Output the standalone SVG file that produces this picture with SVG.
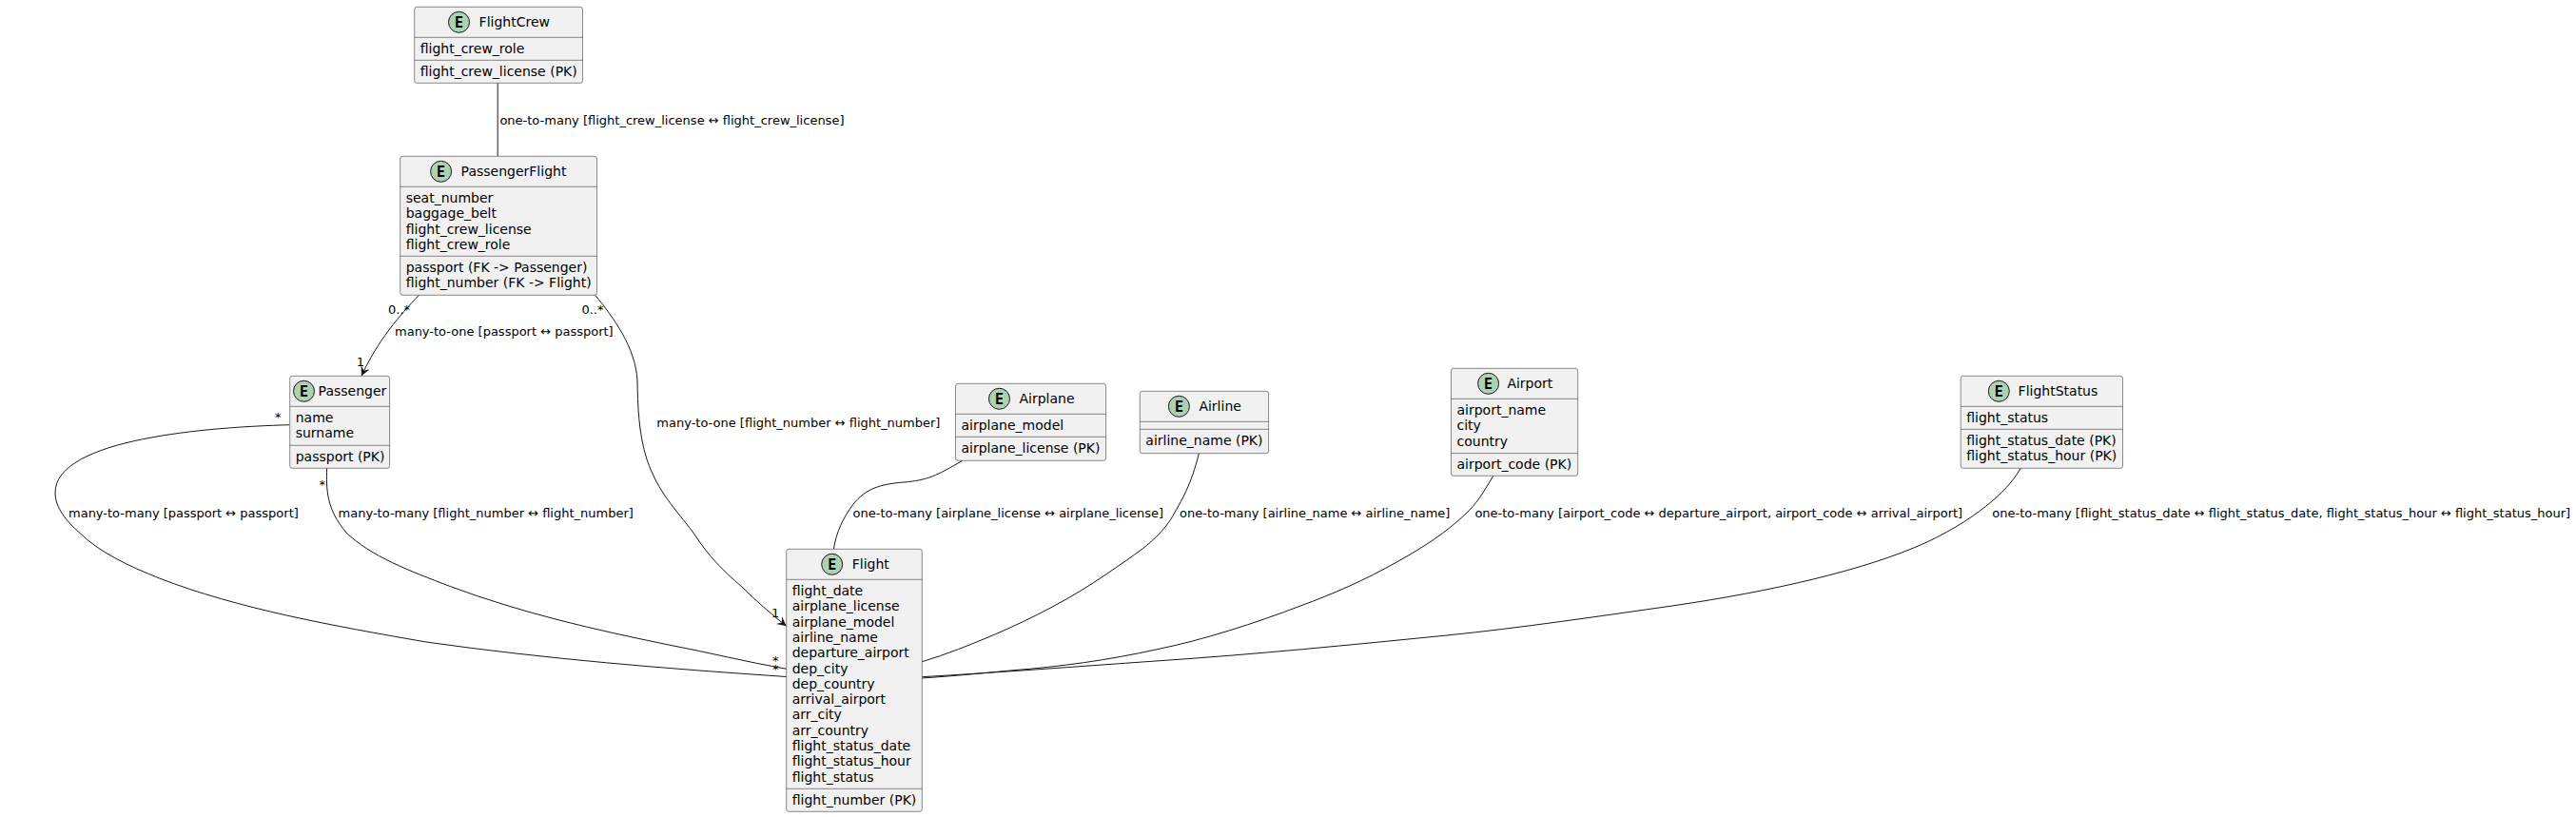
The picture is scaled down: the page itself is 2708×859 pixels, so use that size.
<svg xmlns="http://www.w3.org/2000/svg" width="2708" height="859" viewBox="0 0 2708 859">
<style>
text{font-family:"DejaVu Sans",sans-serif;fill:#000}
.box{fill:#F1F1F1;stroke:#181818;stroke-width:.5}
.sep{stroke:#181818;stroke-width:.5}
.spot{fill:#ADD1B2;stroke:#181818;stroke-width:1}
.e{font-family:"DejaVu Sans Mono",monospace;font-weight:bold;font-size:15px;text-anchor:middle}
.t,.f{font-size:14px}
.l{font-size:13px}
.c{fill:none;stroke:#181818;stroke-width:1}
</style>
<defs>
<marker id="open" markerUnits="userSpaceOnUse" markerWidth="12" markerHeight="12" refX="10" refY="6" orient="auto"><polygon points="0,1 10,6 0,11 4,6" fill="#181818"/></marker>
</defs>
<rect width="2708" height="859" fill="#fff"/>
<g id="connectors">
<path class="c" d="M523.2,87.3 L523.2,164.3"/>
<path class="c" marker-end="url(#open)" d="M440.4,310.3 C420,332 397,358 380,395.3"/>
<path class="c" marker-end="url(#open)" d="M625.7,310.3 C645,334 668,365 670,400 C670.5,425 671,455 680,483 C692,518 710,535 728.8,560 C745,585 760,600 780,617 C795,632 810,645 826.7,658.3"/>
<path class="c" d="M304.3,446.7 C220,449 58,461 58,518 C58,534 70,548 83.4,560 C105,581 135,595 167.6,608 C250,640 350,658 448,675 C575,693 700,703 826.7,711.5"/>
<path class="c" d="M343.6,492.3 C343,515 343,535 364,560 C390,585 430,600 473.7,616.7 C550,645 625,662 703,678 C745,686 785,696 826.7,703.3"/>
<path class="c" d="M1011.7,484.3 C985,500 975,505 950,507 C925,509 910,514 897,530 C886,545 879,560 876.4,577.3"/>
<path class="c" d="M1260.4,476.7 C1252,510 1243,525 1230.4,546.7 C1215,570 1190,585 1164,603 C1125,630 1085,650 1046.7,666.7 C1020,678 995,688 969.3,695.7"/>
<path class="c" d="M1569.8,500.3 C1558,520 1552,530 1541,540 C1520,560 1497,575 1470,590 C1435,610 1400,625 1368,636.7 C1320,655 1265,673 1215,683 C1165,694 1115,701 1062,705 C1030,708 1000,711 969.3,713"/>
<path class="c" d="M2124,492.3 C2115,510 2085,542 2025.7,570 C1960,600 1860,622 1760,636.7 C1680,648 1600,660 1521,668 C1420,678 1320,688 1215,695 C1130,701 1050,707 969.3,711.7"/>
<text class="l" x="525.4" y="130.7">one-to-many [flight_crew_license ↔ flight_crew_license]</text>
<text class="l" x="415" y="353.3">many-to-one [passport ↔ passport]</text>
<text class="l" x="408" y="330">0..*</text>
<text class="l" x="374.8" y="385">1</text>
<text class="l" x="690.3" y="449">many-to-one [flight_number ↔ flight_number]</text>
<text class="l" x="611.4" y="330">0..*</text>
<text class="l" x="811" y="649">1</text>
<text class="l" x="72" y="544">many-to-many [passport ↔ passport]</text>
<text class="l" x="289" y="443">*</text>
<text class="l" x="812" y="708">*</text>
<text class="l" x="355.6" y="544">many-to-many [flight_number ↔ flight_number]</text>
<text class="l" x="335.5" y="514">*</text>
<text class="l" x="812" y="698.8">*</text>
<text class="l" x="896.5" y="544">one-to-many [airplane_license ↔ airplane_license]</text>
<text class="l" x="1240" y="544">one-to-many [airline_name ↔ airline_name]</text>
<text class="l" x="1550.4" y="544">one-to-many [airport_code ↔ departure_airport, airport_code ↔ arrival_airport]</text>
<text class="l" x="2094.3" y="544">one-to-many [flight_status_date ↔ flight_status_date, flight_status_hour ↔ flight_status_hour]</text>
</g>
<g id="FlightCrew">
<rect class="box" x="435.7" y="7.3" width="176.8" height="80" rx="2.5"/>
<line class="sep" x1="435.7" x2="612.5" y1="39.3" y2="39.3"/><line class="sep" x1="435.7" x2="612.5" y1="63.3" y2="63.3"/>
<circle class="spot" cx="482.5" cy="23.3" r="11"/><text class="e" x="482.5" y="28.7">E</text>
<text class="t" x="503.6" y="28.3">FlightCrew</text>
<text class="f" x="441.7" y="56">flight_crew_role</text>
<text class="f" x="441.7" y="80">flight_crew_license (PK)</text>
</g>
<g id="PassengerFlight">
<rect class="box" x="420.7" y="164.3" width="206.8" height="146" rx="2.5"/>
<line class="sep" x1="420.7" x2="627.5" y1="196.3" y2="196.3"/><line class="sep" x1="420.7" x2="627.5" y1="269.3" y2="269.3"/>
<circle class="spot" cx="463.6" cy="180.3" r="11"/><text class="e" x="463.6" y="185.7">E</text>
<text class="t" x="484.6" y="185.3">PassengerFlight</text>
<text class="f" x="426.7" y="213">seat_number</text>
<text class="f" x="426.7" y="229.3">baggage_belt</text>
<text class="f" x="426.7" y="245.6">flight_crew_license</text>
<text class="f" x="426.7" y="261.9">flight_crew_role</text>
<text class="f" x="426.7" y="286">passport (FK -&gt; Passenger)</text>
<text class="f" x="426.7" y="302.3">flight_number (FK -&gt; Flight)</text>
</g>
<g id="Passenger">
<rect class="box" x="304.7" y="395.3" width="104.9" height="97" rx="2.5"/>
<line class="sep" x1="304.7" x2="409.6" y1="427.3" y2="427.3"/><line class="sep" x1="304.7" x2="409.6" y1="468.3" y2="468.3"/>
<circle class="spot" cx="319.5" cy="411.3" r="11"/><text class="e" x="319.5" y="416.7">E</text>
<text class="t" x="334.6" y="416.3">Passenger</text>
<text class="f" x="310.7" y="444">name</text>
<text class="f" x="310.7" y="460.3">surname</text>
<text class="f" x="310.7" y="485">passport (PK)</text>
</g>
<g id="Airplane">
<rect class="box" x="1004.5" y="403.3" width="158.1" height="81" rx="2.5"/>
<line class="sep" x1="1004.5" x2="1162.6" y1="435.3" y2="435.3"/><line class="sep" x1="1004.5" x2="1162.6" y1="459.3" y2="459.3"/>
<circle class="spot" cx="1050.5" cy="419.3" r="11"/><text class="e" x="1050.5" y="424.7">E</text>
<text class="t" x="1071.5" y="424.3">Airplane</text>
<text class="f" x="1010.5" y="452">airplane_model</text>
<text class="f" x="1010.5" y="476">airplane_license (PK)</text>
</g>
<g id="Airline">
<rect class="box" x="1198.3" y="411.3" width="135.3" height="65.4" rx="2.5"/>
<line class="sep" x1="1198.3" x2="1333.6" y1="443.3" y2="443.3"/><line class="sep" x1="1198.3" x2="1333.6" y1="451.3" y2="451.3"/>
<circle class="spot" cx="1239.4" cy="427.3" r="11"/><text class="e" x="1239.4" y="432.7">E</text>
<text class="t" x="1260.4" y="432.3">Airline</text>
<text class="f" x="1204.3" y="468">airline_name (PK)</text>
</g>
<g id="Airport">
<rect class="box" x="1525.5" y="387.3" width="133.2" height="113" rx="2.5"/>
<line class="sep" x1="1525.5" x2="1658.7" y1="419.3" y2="419.3"/><line class="sep" x1="1525.5" x2="1658.7" y1="476.6" y2="476.6"/>
<circle class="spot" cx="1564.6" cy="403.3" r="11"/><text class="e" x="1564.6" y="408.7">E</text>
<text class="t" x="1584.4" y="408.3">Airport</text>
<text class="f" x="1531.5" y="436">airport_name</text>
<text class="f" x="1531.5" y="452.3">city</text>
<text class="f" x="1531.5" y="468.6">country</text>
<text class="f" x="1531.5" y="493.3">airport_code (PK)</text>
</g>
<g id="FlightStatus">
<rect class="box" x="2061.2" y="395.3" width="170.3" height="97" rx="2.5"/>
<line class="sep" x1="2061.2" x2="2231.5" y1="427.3" y2="427.3"/><line class="sep" x1="2061.2" x2="2231.5" y1="451.3" y2="451.3"/>
<circle class="spot" cx="2101.3" cy="411.3" r="11"/><text class="e" x="2101.3" y="416.7">E</text>
<text class="t" x="2121.6" y="416.3">FlightStatus</text>
<text class="f" x="2067.2" y="444">flight_status</text>
<text class="f" x="2067.2" y="468">flight_status_date (PK)</text>
<text class="f" x="2067.2" y="484.3">flight_status_hour (PK)</text>
</g>
<g id="Flight">
<rect class="box" x="826.7" y="577.3" width="142.6" height="276" rx="2.5"/>
<line class="sep" x1="826.7" x2="969.3" y1="609.3" y2="609.3"/><line class="sep" x1="826.7" x2="969.3" y1="829.3" y2="829.3"/>
<circle class="spot" cx="874.7" cy="593.3" r="11"/><text class="e" x="874.7" y="598.7">E</text>
<text class="t" x="895.7" y="598.3">Flight</text>
<text class="f" x="832.7" y="626">flight_date</text>
<text class="f" x="832.7" y="642.3">airplane_license</text>
<text class="f" x="832.7" y="658.6">airplane_model</text>
<text class="f" x="832.7" y="674.9">airline_name</text>
<text class="f" x="832.7" y="691.2">departure_airport</text>
<text class="f" x="832.7" y="707.5">dep_city</text>
<text class="f" x="832.7" y="723.8">dep_country</text>
<text class="f" x="832.7" y="740.1">arrival_airport</text>
<text class="f" x="832.7" y="756.4">arr_city</text>
<text class="f" x="832.7" y="772.7">arr_country</text>
<text class="f" x="832.7" y="789">flight_status_date</text>
<text class="f" x="832.7" y="805.3">flight_status_hour</text>
<text class="f" x="832.7" y="821.6">flight_status</text>
<text class="f" x="832.7" y="846">flight_number (PK)</text>
</g>
</svg>
